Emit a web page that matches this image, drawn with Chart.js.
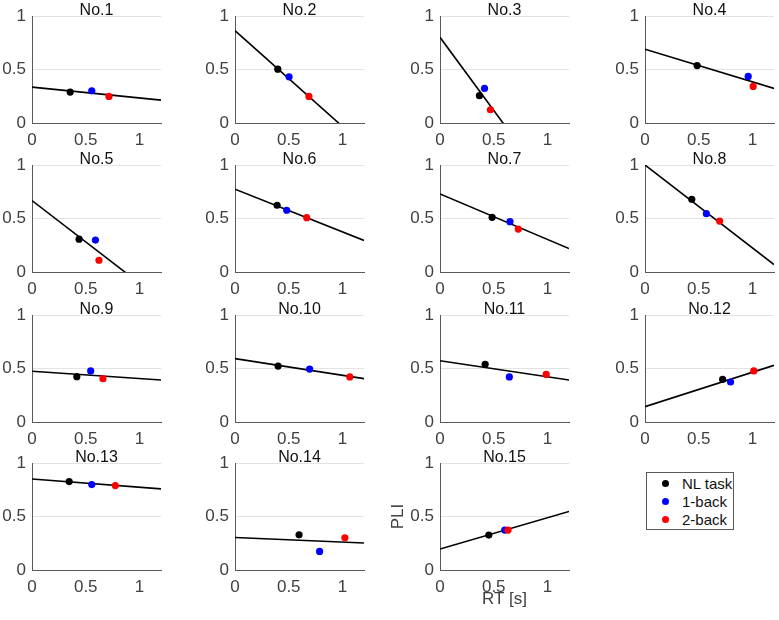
<!DOCTYPE html>
<html>
<head>
<meta charset="utf-8">
<script src="https://cdn.jsdelivr.net/npm/chart.js@4.4.1/dist/chart.umd.min.js"></script>
<style>
  html, body { margin: 0; padding: 0; background: #ffffff; }
  body { width: 779px; height: 620px; position: relative; overflow: hidden; font-family: "Liberation Sans", Arial, sans-serif; }
  canvas { position: absolute; }
  #legend { position: absolute; left: 646px; top: 472px; width: 88px; height: 58px; border: 1px solid #5a5a5a; background: #fff; box-sizing: border-box; }
  .lg-row { position: absolute; left: 0; height: 18px; line-height: 18px; font-size: 15px; color: #111; white-space: nowrap; }
  .lg-dot { position: absolute; left: 15px; top: 5px; width: 7px; height: 7px; border-radius: 50%; }
  .lg-txt { position: absolute; left: 35px; top: 0; }
</style>
</head>
<body>
<div id="legend"></div>
<script>
// ---------------- data ----------------
const subjects = ['No.1','No.2','No.3','No.4','No.5','No.6','No.7','No.8','No.9','No.10','No.11','No.12','No.13','No.14','No.15'];
const seriesNames = ['NL task', '1-back', '2-back'];
const nlRT      = [0.355, 0.398, 0.367, 0.485, 0.438, 0.392, 0.485, 0.435, 0.417, 0.401, 0.420, 0.722, 0.346, 0.596, 0.454];
const nlPLI     = [0.289, 0.503, 0.255, 0.537, 0.307, 0.624, 0.511, 0.680, 0.424, 0.523, 0.539, 0.399, 0.826, 0.329, 0.326];
const oneBackRT  = [0.556, 0.503, 0.414, 0.960, 0.590, 0.481, 0.651, 0.571, 0.546, 0.694, 0.645, 0.796, 0.556, 0.787, 0.602];
const oneBackPLI = [0.301, 0.432, 0.323, 0.435, 0.298, 0.577, 0.470, 0.545, 0.477, 0.495, 0.421, 0.374, 0.798, 0.174, 0.373];
const twoBackRT  = [0.716, 0.688, 0.469, 1.006, 0.623, 0.667, 0.728, 0.694, 0.660, 1.068, 0.988, 1.012, 0.775, 1.022, 0.633];
const twoBackPLI = [0.248, 0.248, 0.124, 0.342, 0.110, 0.508, 0.401, 0.476, 0.405, 0.421, 0.445, 0.477, 0.789, 0.301, 0.373];
// regression line: PLI at RT = 0 and at RT = 1.2
const fitRT       = [0, 1.2];
const fitStartPLI = [0.335, 0.863, 0.801, 0.689, 0.668, 0.774, 0.730, 1.000, 0.474, 0.592, 0.573, 0.143, 0.851, 0.304, 0.196];
const fitEndPLI   = [0.214, -0.212, -0.839, 0.323, -0.260, 0.295, 0.219, 0.069, 0.393, 0.405, 0.393, 0.530, 0.758, 0.252, 0.547];
const xTicks = [0, 0.5, 1];
const yTicks = [0, 0.5, 1];
const xRange = [0, 1.2];
const yRange = [0, 1];
const xTitle = 'RT [s]';
const yTitle = 'PLI';

// ---------------- layout / style ----------------
const colLeft = [32, 235, 440, 645];
const rowTop  = [16, 165, 315, 463];
const plotW = 129, plotH = 107;
const titleH = 20;
const colors = ['#000000', '#0000ff', '#ff0000'];
const FONT = '"Liberation Sans", Arial, sans-serif';
Chart.defaults.font.family = FONT;

subjects.forEach((name, i) => {
  const r = Math.floor(i / 4), c = i % 4;
  const withTitles = (i === 14);
  const yw = withTitles ? 60 : 32;
  const xh = withTitles ? 50 : 30;
  const rightPad = 12;
  const cv = document.createElement('canvas');
  const W = yw + plotW + rightPad, H = titleH + plotH + xh;
  cv.width = W; cv.height = H;
  cv.style.left = (colLeft[c] - yw) + 'px';
  cv.style.top = (rowTop[r] - titleH) + 'px';
  cv.style.width = W + 'px'; cv.style.height = H + 'px';
  document.body.appendChild(cv);

  const pts = [
    {rt: twoBackRT, pli: twoBackPLI, col: colors[2], order: 0, label: seriesNames[2]},
    {rt: oneBackRT, pli: oneBackPLI, col: colors[1], order: 1, label: seriesNames[1]},
    {rt: nlRT,      pli: nlPLI,      col: colors[0], order: 2, label: seriesNames[0]},
  ];
  const datasets = pts.map(p => ({
    label: p.label,
    data: [{x: p.rt[i], y: p.pli[i]}],
    backgroundColor: p.col,
    borderColor: p.col,
    pointRadius: 3.6,
    pointBorderWidth: 0,
    order: p.order,
    showLine: false
  }));
  datasets.push({
    label: 'fit',
    data: [{x: fitRT[0], y: fitStartPLI[i]}, {x: fitRT[1], y: fitEndPLI[i]}],
    showLine: true,
    borderColor: '#000000',
    borderWidth: 1.6,
    pointRadius: 0,
    order: 3,
    clip: 0
  });

  new Chart(cv, {
    type: 'scatter',
    data: { datasets },
    options: {
      responsive: false,
      animation: false,
      devicePixelRatio: 1,
      events: [],
      layout: { padding: { left: 0, right: rightPad, top: 0, bottom: 0 } },
      plugins: {
        legend: { display: false },
        tooltip: { enabled: false },
        title: {
          display: true,
          fullSize: false,
          text: name,
          color: '#111111',
          font: { size: 16, weight: 'normal', lineHeight: '10px' },
          padding: { top: 10, bottom: 0 }
        }
      },
      scales: {
        x: {
          type: 'linear',
          min: xRange[0], max: xRange[1],
          afterBuildTicks: s => { s.ticks = xTicks.map(v => ({value: v})); },
          afterFit: s => { s.height = xh; },
          grid: { display: false, drawTicks: false },
          border: { display: true, color: '#595959', width: 1 },
          ticks: { color: '#404040', font: { size: 17 }, padding: 7, maxRotation: 0, callback: v => String(v) },
          title: { display: withTitles, text: xTitle, color: '#404040', font: { size: 17, lineHeight: '16px' }, padding: { top: 0, bottom: 13 } }
        },
        y: {
          type: 'linear',
          min: yRange[0], max: yRange[1],
          afterBuildTicks: s => { s.ticks = yTicks.map(v => ({value: v})); },
          afterFit: s => { s.width = yw; },
          grid: { display: true, drawTicks: false, color: ctx => (ctx.tick && ctx.tick.value === 0) ? 'rgba(0,0,0,0)' : '#e3e3e3', lineWidth: 1 },
          border: { display: true, color: '#595959', width: 1 },
          ticks: { color: '#404040', font: { size: 17 }, padding: 6, callback: v => String(v) },
          title: { display: withTitles, text: yTitle, color: '#404040', font: { size: 17, lineHeight: '16px' }, padding: { top: 10, bottom: 0 } }
        }
      }
    }
  });
});

// legend (HTML, real text)
const lg = document.getElementById('legend');
seriesNames.forEach((n, k) => {
  const row = document.createElement('div');
  row.className = 'lg-row';
  row.style.top = (2 + k * 18) + 'px';
  const dot = document.createElement('span');
  dot.className = 'lg-dot';
  dot.style.background = colors[k];
  const t = document.createElement('span');
  t.className = 'lg-txt';
  t.textContent = n;
  row.appendChild(dot); row.appendChild(t);
  lg.appendChild(row);
});
</script>
</body>
</html>
